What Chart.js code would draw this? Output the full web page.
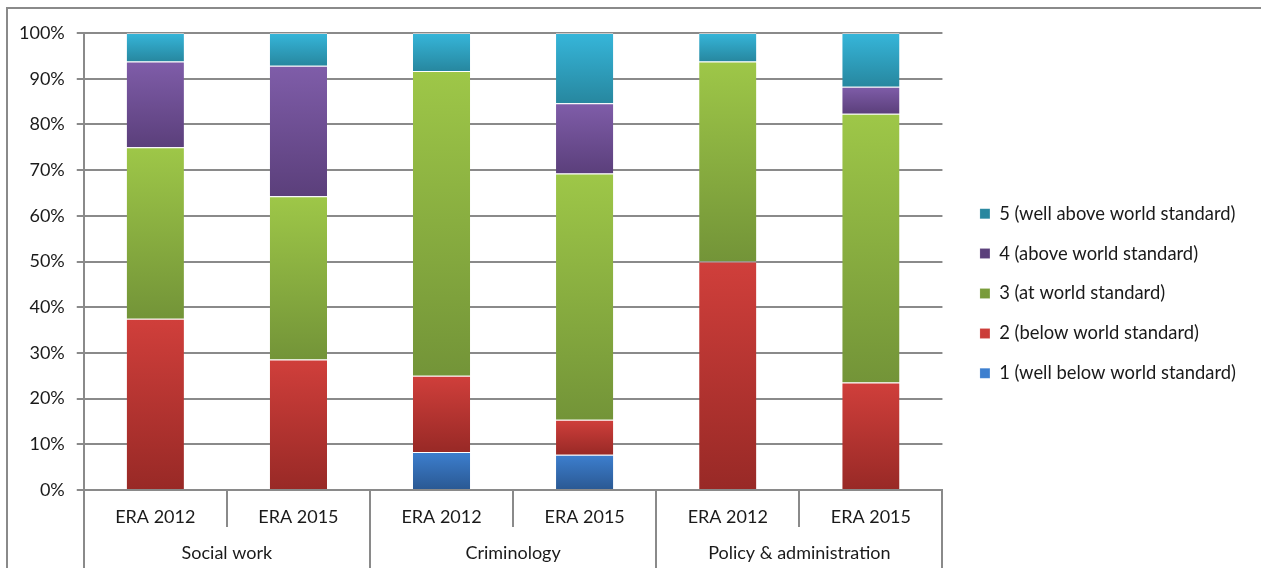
<!DOCTYPE html>
<html>
<head>
<meta charset="utf-8">
<script src="https://cdn.jsdelivr.net/npm/chart.js@4.4.0/dist/chart.umd.min.js"></script>
<style>
  html, body { margin: 0; padding: 0; background: #fff; overflow: hidden; }
  #wrap { position: relative; width: 1261px; height: 568px; }
  #frame { position: absolute; left: 6px; top: 7px; width: 1300px; height: 600px;
           border-top: 2px solid #8a8a8a; border-left: 2px solid #8a8a8a; }
  canvas { position: absolute; left: 0; top: 0; }
</style>
</head>
<body>
<div id="wrap">
  <div id="frame"></div>
  <canvas id="chart" width="1261" height="568"></canvas>
</div>
<script>
// bars (sub categories) and their groups
var rounds = ['ERA 2012', 'ERA 2015', 'ERA 2012', 'ERA 2015', 'ERA 2012', 'ERA 2015'];
var fields = ['Social work', 'Criminology', 'Policy & administration'];

// share of outputs per rating (%), one value per bar
var level1 = [0, 0, 8.33, 7.69, 0, 0];
var level2 = [37.5, 28.57, 16.67, 7.69, 50, 23.53];
var level3 = [37.5, 35.71, 66.67, 53.85, 43.75, 58.82];
var level4 = [18.75, 28.57, 0, 15.38, 0, 5.88];
var level5 = [6.25, 7.14, 8.33, 15.38, 6.25, 11.76];

var levelNames = ['1 (well below world standard)', '2 (below world standard)', '3 (at world standard)',
    '4 (above world standard)', '5 (well above world standard)'];

var yTicks = [0, 10, 20, 30, 40, 50, 60, 70, 80, 90, 100];

var levels = [level1, level2, level3, level4, level5];

// [top colour, bottom colour, legend colour]
var shades = [
    ['#3d7fcf', '#2a5892', '#3467ad'],
    ['#d03f3b', '#982926', '#bf3733'],
    ['#9ec748', '#739438', '#8aab43'],
    ['#7f5da9', '#5b3f7b', '#6c4f92'],
    ['#36b6da', '#27879f', '#2f9fbd']
];

var fam = 'Lato, "Open Sans", sans-serif';
var txt = '#1a1a1a';
var gridGrey = '#8a8a8a';

// vertical gradient on every stacked piece, like the old office charts
function pieceFill(ctx) {
    var d = ctx.datasetIndex;
    var y = ctx.chart.scales.y;
    if (ctx.type !== 'data' || !y) return shades[d][2];
    var i = ctx.dataIndex;
    var base = 0;
    for (var k = 0; k < d; k++) base += levels[k][i];
    var top = base + levels[d][i];
    var y0 = y.getPixelForValue(top), y1 = y.getPixelForValue(base);
    if (!isFinite(y0) || !isFinite(y1) || y1 - y0 < 1) return shades[d][0];
    var g = ctx.chart.ctx.createLinearGradient(0, y0, 0, y1);
    g.addColorStop(0, shades[d][0]);
    g.addColorStop(1, shades[d][1]);
    return g;
}

// separator lines between the category labels (two level axis)
var axisSeparators = {
    id: 'axisSeparators',
    afterLayout: function(chart) {
        // leave a gap between plot and legend, lift legend a bit
        chart.legend.left += 16;
        chart.legend.right += 16;
        chart.legend.top -= 7;
        chart.legend.bottom -= 7;
    },
    afterDraw: function(chart) {
        var c = chart.ctx, x = chart.scales.x, x2 = chart.scales.x2;
        c.save();
        c.strokeStyle = gridGrey;
        c.lineWidth = 2;
        c.beginPath();
        for (var i = 0; i <= rounds.length; i++) {
            var px = Math.round(x.getPixelForValue(i - 0.5));
            c.moveTo(px, x.top);
            c.lineTo(px, x.bottom);
        }
        for (var j = 0; j <= fields.length; j++) {
            var gx = Math.round(x2.getPixelForValue(j - 0.5));
            c.moveTo(gx, x.top);
            c.lineTo(gx, chart.height);
        }
        c.stroke();
        c.restore();
    }
};

var datasets = levels.map(function(vals, d) {
    return {
        label: levelNames[d],
        data: vals,
        backgroundColor: pieceFill,
        borderColor: 'rgba(255,255,255,0.55)',
        borderWidth: { top: 1, left: 0, right: 0, bottom: 0 },
        barPercentage: 0.4,
        categoryPercentage: 1.0
    };
});

var chrt = document.getElementById('chart').getContext('2d');
var stackChart = new Chart(chrt, {
    type: 'bar',
    data: {
        labels: rounds,
        datasets: datasets
    },
    plugins: [axisSeparators],
    options: {
        responsive: false,
        animation: false,
        layout: { padding: { top: 33, left: 7, right: 31, bottom: 0 } },
        plugins: {
            tooltip: { enabled: false },
            legend: {
                position: 'right',
                reverse: true,
                labels: {
                    boxWidth: 10,
                    boxHeight: 10,
                    padding: 21.5,
                    color: txt,
                    font: { family: fam, size: 18.4 }
                }
            }
        },
        scales: {
            x: {
                stacked: true,
                grid: { offset: true, drawOnChartArea: false, drawTicks: false, color: gridGrey, lineWidth: 2 },
                border: { color: gridGrey, width: 2 },
                ticks: { padding: 16, color: txt, font: { family: fam, size: 18 }, maxRotation: 0 },
                afterFit: function(s) { s.height = 37; }
            },
            x2: {
                type: 'category',
                labels: fields,
                position: 'bottom',
                offset: true,
                grid: { display: false, drawTicks: false },
                border: { display: false },
                ticks: { padding: 15, color: txt, font: { family: fam, size: 18 }, maxRotation: 0 },
                afterFit: function(s) { s.height = 41; }
            },
            y: {
                stacked: true,
                min: 0,
                max: 100,
                afterBuildTicks: function(axis) {
                    axis.ticks = yTicks.map(function(v) { return { value: v }; });
                },
                grid: { color: gridGrey, lineWidth: 2, tickLength: 7 },
                border: { color: gridGrey, width: 2 },
                ticks: {
                    padding: 12,
                    color: txt,
                    font: { family: fam, size: 18 },
                    callback: function(v) { return v + '%'; }
                }
            }
        }
    }
});
</script>
</body>
</html>
